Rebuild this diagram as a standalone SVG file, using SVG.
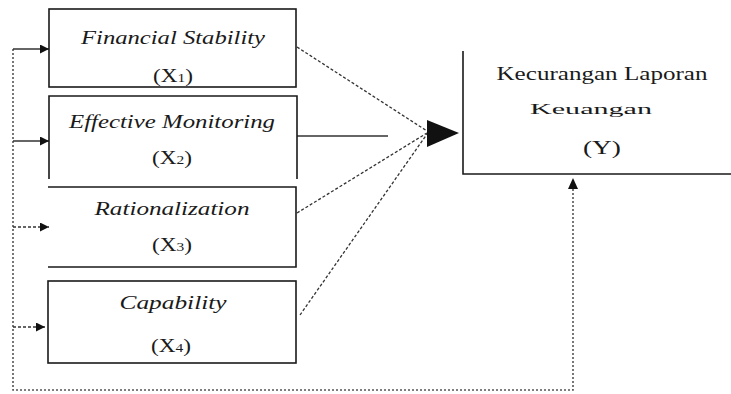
<svg xmlns="http://www.w3.org/2000/svg" width="731" height="394" viewBox="0 0 731 394">
<style>
.box{fill:none;stroke:#1a1a1a;stroke-width:1.6}
.t{font-family:"Liberation Serif","Times New Roman",serif;fill:#1a1a1a;text-anchor:middle}
.i{font-style:italic;font-size:18px}
.n{font-size:18px}
.dash{fill:none;stroke:#333;stroke-width:1.3;stroke-dasharray:3,2}
.dot{fill:none;stroke:#555;stroke-width:1.6;stroke-dasharray:2,2}
.solid{fill:none;stroke:#333;stroke-width:1.3}
</style>
<defs>
<marker id="ah" viewBox="0 0 10 10" refX="10" refY="5" markerWidth="9" markerHeight="9" markerUnits="userSpaceOnUse" orient="auto">
<path d="M0,0 L10,5 L0,10 z" fill="#111"/>
</marker>
</defs>
<rect width="731" height="394" fill="#fff"/>
<g id="connectors">
<line class="dash" x1="297" y1="47" x2="427" y2="131"/>
<line class="solid" x1="297" y1="136" x2="388" y2="136"/>
<line class="dash" x1="297" y1="213" x2="427" y2="133"/>
<line class="dash" x1="300" y1="315" x2="427" y2="134"/>
<path d="M427,120 L459,133 L427,147 z" fill="#111"/>
<path class="dot" d="M13,49 V390 H573 V182"/>
<path d="M568,189 L573,178 L578,189 z" fill="#111"/>
<line class="solid" x1="13" y1="49" x2="49" y2="49" marker-end="url(#ah)"/>
<line class="solid" x1="13" y1="141" x2="49" y2="141" marker-end="url(#ah)"/>
<line class="dash" x1="13" y1="227" x2="49" y2="227" marker-end="url(#ah)"/>
<line class="dash" x1="13" y1="327" x2="45" y2="327" marker-end="url(#ah)"/>
</g>
<g id="x1">
<rect class="box" x="49" y="9" width="247" height="78"/>
<text class="t i" x="173" y="44" textLength="184" lengthAdjust="spacingAndGlyphs">Financial Stability</text>
<text class="t n" x="173" y="82" textLength="40" lengthAdjust="spacingAndGlyphs">(X<tspan font-size="12">1</tspan>)</text>
</g>
<g id="x2">
<path class="box" d="M49,179 V96 H297 V179"/>
<text class="t i" x="172" y="128" textLength="206" lengthAdjust="spacingAndGlyphs">Effective Monitoring</text>
<text class="t n" x="172" y="164" textLength="40" lengthAdjust="spacingAndGlyphs">(X<tspan font-size="12">2</tspan>)</text>
</g>
<g id="x3">
<path class="box" d="M48,187 H296 V267 H48"/>
<text class="t i" x="172" y="215" textLength="155" lengthAdjust="spacingAndGlyphs">Rationalization</text>
<text class="t n" x="172" y="251" textLength="40" lengthAdjust="spacingAndGlyphs">(X<tspan font-size="12">3</tspan>)</text>
</g>
<g id="x4">
<rect class="box" x="48" y="281" width="248" height="82"/>
<text class="t i" x="173" y="309" textLength="107" lengthAdjust="spacingAndGlyphs">Capability</text>
<text class="t n" x="171" y="352" textLength="40" lengthAdjust="spacingAndGlyphs">(X<tspan font-size="12">4</tspan>)</text>
</g>
<g id="y">
<path class="box" d="M463,51 V174 H731"/>
<text class="t n" x="602" y="80" textLength="211" lengthAdjust="spacingAndGlyphs">Kecurangan Laporan</text>
<text class="t" x="591" y="114" font-size="15" textLength="122" lengthAdjust="spacingAndGlyphs">Keuangan</text>
<text class="t n" x="602" y="154" textLength="38" lengthAdjust="spacingAndGlyphs">(Y)</text>
</g>
</svg>
